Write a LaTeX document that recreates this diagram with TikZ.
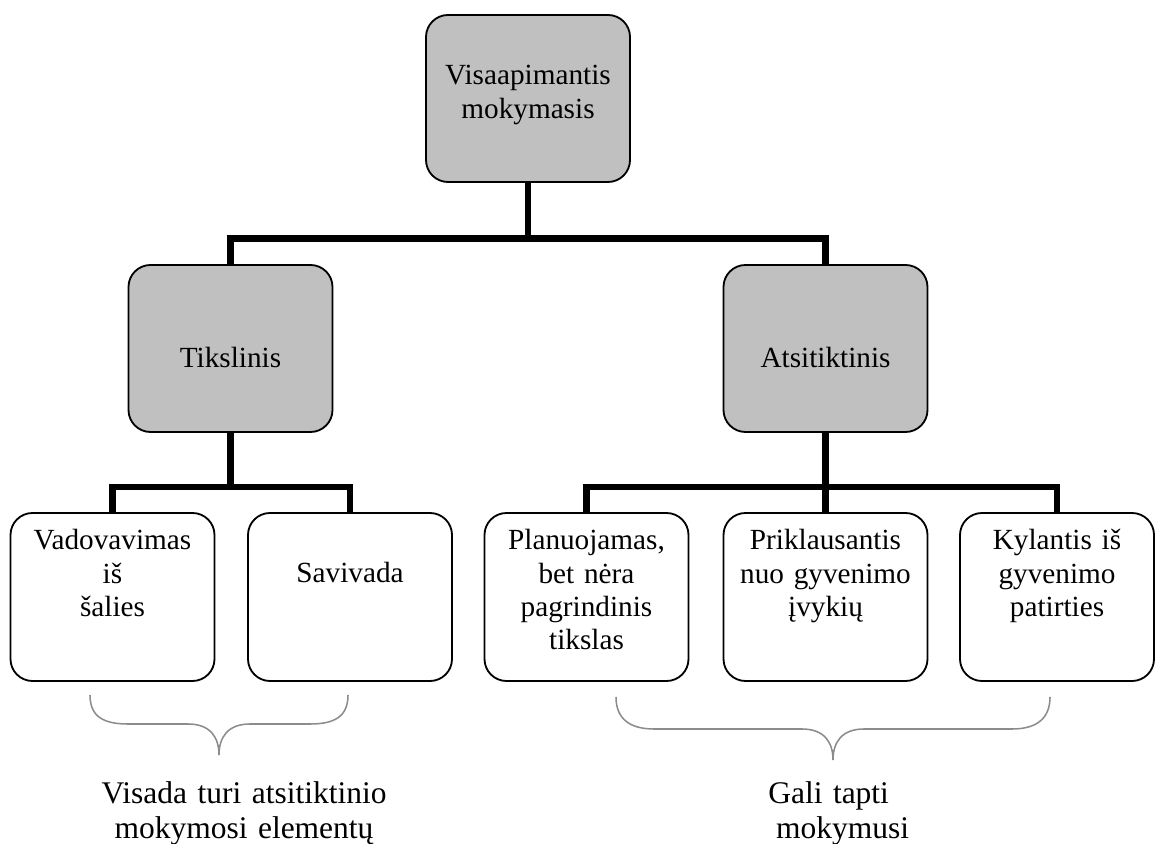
\documentclass[tikz,border=0pt]{standalone}
\usepackage{fontspec}
\setmainfont{Liberation Serif}
\usepackage{tikz}
\usepackage{xcolor}
\definecolor{pilka}{RGB}{192,192,192}
\definecolor{skliaustas}{RGB}{140,140,140}

\begin{document}
\begin{tikzpicture}[
        blokas/.style={draw, line width=1.3pt, rounded corners=0.55cm, inner sep=0pt, text width=5.1cm, align=center, font={\fontsize{20.8}{23.5}\selectfont}},
        pilkas/.style={blokas, fill=pilka},
        baltas/.style={blokas, fill=white, text height=0.925cm, text depth=3.275cm},
        jungtis/.style={line width=4.5pt},
        skliaustai/.style={skliaustas, line width=1.1pt},
        tekstas/.style={inner sep=0pt, font={\fontsize{22.4}{24.9}\selectfont}}
    ]
        \useasboundingbox (0,0) rectangle (28.875,21.075);

        % Virsutinis blokas
        \node[pilkas, text height=1.75cm, text depth=2.425cm] (virsus) at (13.2,18.6125) {Visaapimantis\\mokymasis};

        % Antras lygis
        \node[pilkas, text height=2.575cm, text depth=1.6cm] (tiks) at (5.7625,12.3625) {Tikslinis};
        \node[pilkas, text height=2.575cm, text depth=1.6cm] (atsi) at (20.6375,12.3625) {Atsitiktinis};

        % Trecias lygis
        \node[baltas] (vad) at (2.8125,6.15) {Vadovavimas\\iš\\šalies};
        \node[baltas, text height=1.75cm, text depth=2.45cm] (sav) at (8.75,6.15) {Savivada};
        \node[baltas] (plan) at (14.6625,6.15) {Planuojamas,\\bet nėra\\pagrindinis\\tikslas};
        \node[baltas] (prik) at (20.6375,6.15) {Priklausantis\\nuo gyvenimo\\įvykių};
        \node[baltas, text width=4.85cm] (kyl) at (26.425,6.15) {Kylantis iš\\gyvenimo\\patirties};

        % Jungtys
        \coordinate (virsbus) at (13.2,15.1125);
        \draw[jungtis] (virsus.south) -- (virsbus);
        \draw[jungtis] (tiks.north) |- (virsbus) -| (atsi.north);

        \coordinate (tiksbus) at (5.7625,8.9);
        \draw[jungtis] (tiks.south) -- (tiksbus);
        \draw[jungtis] (vad.north) |- (tiksbus) -| (sav.north);

        \coordinate (atsibus) at (20.6375,8.9);
        \draw[jungtis] (atsi.south) -- (prik.north);
        \draw[jungtis] (plan.north) |- (atsibus) -| (kyl.north);

        % Skliaustai
        \draw[skliaustai] (2.25,3.7) .. controls (2.25,3.15) and (2.6,2.975) .. (3.2,2.975) -- (4.7,2.975)
            .. controls (5.25,2.975) and (5.475,2.65) .. (5.475,2.2)
            .. controls (5.475,2.65) and (5.7,2.975) .. (6.25,2.975) -- (7.75,2.975)
            .. controls (8.35,2.975) and (8.7,3.15) .. (8.7,3.7);
        \draw[skliaustai] (15.4,3.65) .. controls (15.4,3.1) and (15.75,2.85) .. (16.35,2.85) -- (20.05,2.85)
            .. controls (20.6,2.85) and (20.825,2.525) .. (20.825,2.075)
            .. controls (20.825,2.525) and (21.05,2.85) .. (21.6,2.85) -- (25.3,2.85)
            .. controls (25.9,2.85) and (26.25,3.1) .. (26.25,3.65);

        % Apatiniai tekstai
        \node[tekstas, text width=8cm, align=center, anchor=base] (kaire) at (6.1,1.0) {Visada turi atsitiktinio\\mokymosi elementų};
        \node[tekstas, text width=4cm, align=left, anchor=base west] (desine) at (19.2,1.0) {Gali tapti\\\hspace*{0.25em}mokymusi};
    \end{tikzpicture}
\end{document}
